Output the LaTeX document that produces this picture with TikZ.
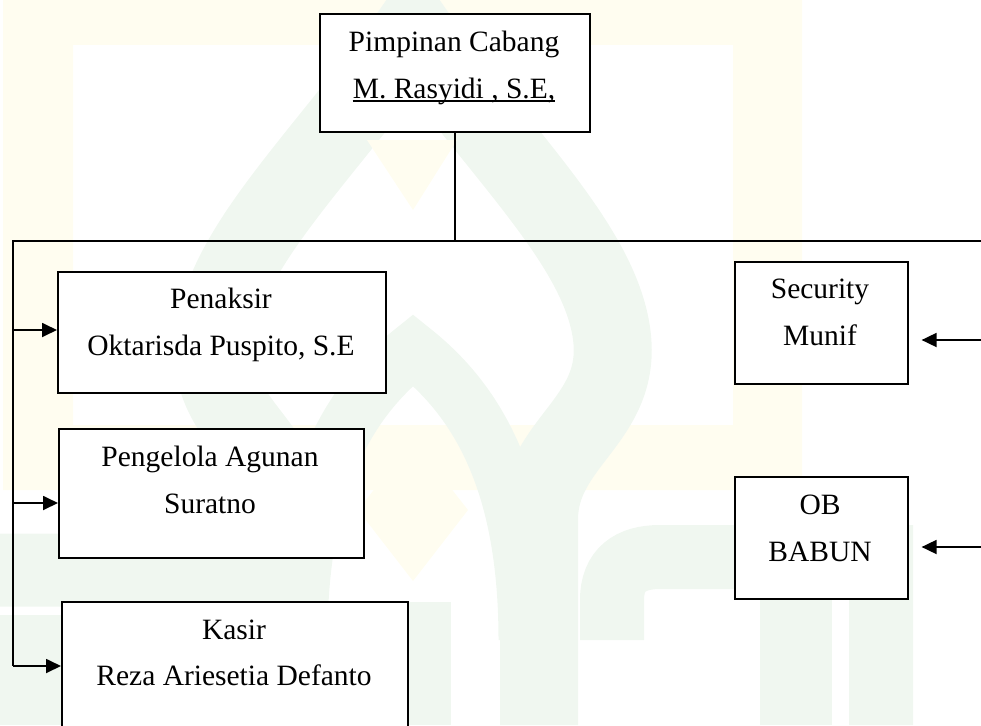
\documentclass[tikz,border=0pt]{standalone}
\usepackage{fontspec}
\setmainfont{Liberation Serif}
\usetikzlibrary{arrows.meta}
\definecolor{wmY}{RGB}{255,253,240}
\definecolor{wmG}{RGB}{240,247,240}
\begin{document}
\begin{tikzpicture}[x=1pt,y=-1pt,
  box/.style={draw=black, line width=1.6pt, fill=white, inner sep=0pt, anchor=north west},
  lbl/.style={inner sep=0pt, anchor=base, font=\fontsize{29.5}{35}\selectfont},
  wire/.style={line width=1.8pt},
  arr/.style={line width=1.8pt, -{Triangle[length=15pt,width=14pt]}}]
\useasboundingbox (0,0) rectangle (981,725);
% faint watermark
\fill[wmY, even odd rule] (3,0) rectangle (802,490) (73,45) rectangle (733,425);
\draw[wmG, line width=78pt] (287,725) -- (287,520) .. controls (287,440) and (200,420) .. (215,330) .. controls (230,240) and (330,150) .. (413,30) .. controls (496,150) and (596,240) .. (611,330) .. controls (626,420) and (539,440) .. (539,520) -- (539,725);
\draw[wmG, line width=55pt] (300,640) .. controls (300,480) and (350,400) .. (413,350) .. controls (476,400) and (526,480) .. (526,640);
\fill[wmY] (413,440) -- (468,510) -- (413,581) -- (358,510) -- cycle;
\fill[wmY] (367,140) -- (457,140) -- (413,210) -- cycle;
\fill[wmG] (373,602) rectangle (451,725);
\draw[wmG, line width=73pt] (0,570) -- (220,570) .. controls (270,570) and (287,590) .. (287,640);
\fill[wmG] (0,615) rectangle (200,725);
\draw[wmG, line width=64pt] (612,640) -- (612,600) .. controls (612,570) and (630,557) .. (660,557) -- (881,557) -- (881,725);
\fill[wmG] (760,589) rectangle (832,725);
% boxes
\node[box, minimum width=270pt, minimum height=118pt] (head) at (319,13) {};
\node[box, minimum width=328pt, minimum height=121pt] (pen) at (57,271) {};
\node[box, minimum width=305pt, minimum height=129pt] (pga) at (58,428) {};
\node[box, minimum width=346pt, minimum height=140pt] (kas) at (61,601) {};
\node[box, minimum width=173pt, minimum height=122pt] (sec) at (734,261) {};
\node[box, minimum width=173pt, minimum height=122pt] (ob) at (734,476) {};
% labels
\node[lbl] (headA) at (454,52) {Pimpinan Cabang};
\node[lbl] (headB) at (454,98) {M. Rasyidi , S.E,};
\draw[line width=1.3pt] ([yshift=-3pt]headB.base west) -- ([yshift=-3pt]headB.base east);
\node[lbl] (penA) at (221,308) {Penaksir};
\node[lbl] (penB) at (221,355) {Oktarisda Puspito, S.E};
\node[lbl] (pgaA) at (210,466) {Pengelola Agunan};
\node[lbl] (pgaB) at (210,513) {Suratno};
\node[lbl] (kasA) at (234,639) {Kasir};
\node[lbl] (kasB) at (234,685) {Reza Ariesetia Defanto};
\node[lbl] (secA) at (820,298) {Security};
\node[lbl] (secB) at (820,345) {Munif};
\node[lbl] (obA) at (820,514) {OB};
\node[lbl] (obB) at (820,561) {BABUN};
% connectors
\coordinate (busL) at (13,241);
\coordinate (busR) at (981,241);
\coordinate (busB) at (13,666);
\coordinate (aPen) at (13,330);
\coordinate (aPga) at (13,503);
\coordinate (aKas) at (13,666);
\coordinate (rSec) at (981,340);
\coordinate (rOb) at (981,547);
\draw[wire] (head.south) -- (head.south |- busL);
\draw[wire] (busR) -- (busL) -- (busB);
\draw[arr] (aPen) -- (aPen -| pen.west);
\draw[arr] (aPga) -- (aPga -| pga.west);
\draw[arr] (aKas) -- (aKas -| kas.west);
\draw[arr, shorten >=13pt] (rSec) -- (rSec -| sec.east);
\draw[arr, shorten >=13pt] (rOb) -- (rOb -| ob.east);
\end{tikzpicture}
\end{document}
